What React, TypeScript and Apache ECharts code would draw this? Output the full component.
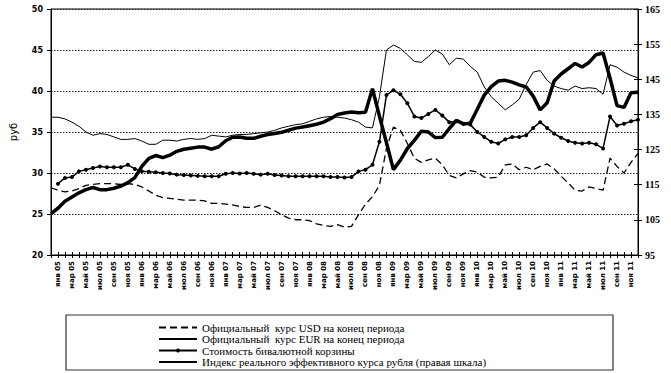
import React, { useEffect, useRef } from "react";
import * as echarts from "echarts";

const monthNames = ["янв", "фев", "мар", "апр", "май", "июн", "июл", "авг", "сен", "окт", "ноя", "дек"];
const years = ["05", "06", "07", "08", "09", "10", "11"];
const categories: string[] = ["дек 04"];
years.forEach((y) => monthNames.forEach((m) => categories.push(m + " " + y)));

const usd = [
  28.2, 27.9, 27.7, 27.8, 28.1, 28.5, 28.6, 28.7, 28.7, 28.7,
  28.6, 28.7, 28.6, 28.3, 27.8, 27.3, 27.0, 26.9, 26.8, 26.7,
  26.7, 26.7, 26.6, 26.3, 26.3, 26.2, 26.1, 25.9, 25.8, 25.8,
  26.1, 25.8, 25.4, 24.9, 24.5, 24.3, 24.3, 24.2, 23.8, 23.6,
  23.5, 23.7, 23.4, 23.5, 24.9, 26.2, 27.1, 28.5, 33.0, 35.6,
  35.2, 33.6, 31.8, 31.3, 31.6, 31.8, 31.0, 29.7, 29.4, 29.9,
  30.3, 30.1, 29.5, 29.4, 29.5, 31.0, 31.1, 30.4, 30.7, 30.4,
  30.8, 31.1, 30.5, 29.6, 28.8, 27.9, 27.8, 28.3, 28.1, 27.9,
  31.8, 30.8, 30.0, 31.3, 32.4,
];

const eur = [
  36.8, 36.8, 36.6, 36.2, 35.7, 35.0, 34.6, 34.8, 34.7, 34.4,
  34.1, 34.1, 34.2, 33.9, 33.5, 33.5, 34.0, 34.0, 33.9, 34.1,
  34.2, 34.1, 34.2, 34.6, 34.5, 34.4, 34.6, 34.7, 34.7, 34.8,
  34.9, 35.0, 35.2, 35.5, 35.7, 35.9, 36.0, 36.3, 36.6, 36.8,
  36.9, 36.8, 36.7, 36.5, 36.2, 35.6, 35.5, 39.3, 45.0, 45.6,
  45.2, 44.4, 43.6, 43.5, 44.2, 45.0, 44.5, 43.2, 44.0, 43.9,
  43.0, 42.3, 40.5, 39.3, 38.5, 37.7, 38.3, 39.0, 40.8, 42.3,
  42.5, 41.3, 40.6, 40.3, 40.1, 40.6, 40.3, 40.4, 40.3, 39.6,
  43.2, 42.9, 42.3, 41.9, 41.6,
];

const basket = [
  null, 28.7, 29.4, 29.5, 30.2, 30.4, 30.6, 30.8, 30.7, 30.7,
  30.7, 31.0, 30.5, 30.2, 30.15, 30.1, 30.0, 29.95, 29.8, 29.75,
  29.7, 29.65, 29.6, 29.6, 29.6, 29.9, 30.0, 29.95, 30.0, 29.9,
  29.8, 29.9, 29.75, 29.7, 29.6, 29.6, 29.6, 29.6, 29.6, 29.6,
  29.5, 29.5, 29.45, 29.5, 30.2, 30.4, 31.0, 33.8, 39.5, 40.1,
  39.6, 38.5, 36.9, 36.7, 37.2, 37.7, 37.0, 36.2, 36.3, 36.0,
  35.9, 35.0, 34.4, 33.8, 33.6, 34.1, 34.4, 34.4, 34.6, 35.5,
  36.2, 35.5, 34.8, 34.3, 33.9, 33.7, 33.6, 33.7, 33.5, 33.0,
  36.9, 35.8, 36.0, 36.3, 36.5,
];

const reer = [
  106.8, 108.3, 110.3, 111.5, 112.7, 113.6, 114.2, 113.6, 113.6, 114.0,
  114.6, 115.6, 117.0, 120.2, 122.5, 123.3, 122.7, 123.4, 124.5, 125.1,
  125.4, 125.7, 125.7, 125.1, 125.8, 127.5, 128.5, 128.6, 128.2, 128.2,
  128.8, 129.3, 129.6, 129.9, 130.5, 131.1, 131.4, 131.8, 132.2, 132.8,
  133.8, 135.0, 135.4, 135.7, 135.5, 135.6, 142.3, 134.5, 127.0, 119.3,
  122.0, 125.3, 127.6, 130.2, 130.0, 128.4, 128.5, 131.0, 133.3, 132.3,
  132.5, 136.5, 140.5, 142.9, 144.5, 144.7, 144.2, 143.4, 142.8, 140.2,
  136.3, 138.3, 144.5, 146.5, 148.0, 149.5, 148.5, 149.8, 152.0, 152.5,
  145.3, 137.5, 137.0, 141.2, 141.3,
];

const seriesNames = [
  "Официальный  курс USD на конец периода",
  "Официальный  курс EUR на конец периода",
  "Стоимость бивалютной корзины",
  "Индекс реального эффективного курса рубля (правая шкала)",
];

const hiddenSymbol = { color: "rgba(0,0,0,0)", borderWidth: 0, opacity: 0 };

export default function App() {
  const ref = useRef<HTMLDivElement>(null);

  useEffect(() => {
    if (!ref.current) return;
    const chart = echarts.init(ref.current, undefined, { renderer: "svg" });
    chart.setOption({
      animation: false,
      backgroundColor: "#fff",
      grid: {
        left: 48,
        right: 33,
        top: 9,
        bottom: 118,
        show: true,
        borderColor: "#000",
        borderWidth: 1,
      },
      legend: {
        orient: "vertical",
        left: 158,
        top: 322,
        height: 60,
        padding: 0,
        itemWidth: 38,
        itemHeight: 5,
        itemGap: 0.5,
        data: [
          { name: seriesNames[0], itemStyle: hiddenSymbol },
          { name: seriesNames[1], itemStyle: hiddenSymbol },
          { name: seriesNames[2] },
          { name: seriesNames[3], itemStyle: hiddenSymbol },
        ],
        textStyle: {
          fontFamily: "Liberation Serif",
          fontSize: 11,
          lineHeight: 11,
          color: "#000",
        },
      },
      graphic: [
        {
          type: "rect",
          shape: { x: 66, y: 315, width: 547, height: 55 },
          style: { fill: "none", stroke: "#333", lineWidth: 1.2 },
        },
      ],
      xAxis: [
        {
          type: "category",
          data: categories,
          boundaryGap: false,
          axisLine: { lineStyle: { color: "#000", width: 1 } },
          axisTick: { interval: 0, length: 3, lineStyle: { color: "#000" } },
          axisLabel: {
            interval: (index: number) => index % 2 === 1,
            rotate: 90,
            margin: 6,
            fontFamily: "DejaVu Sans",
            fontSize: 7,
            fontWeight: "bold",
            color: "#000",
          },
          splitLine: { show: false },
        },
        {
          type: "category",
          data: categories,
          boundaryGap: false,
          position: "bottom",
          axisLine: { show: false },
          axisTick: { interval: 0, inside: true, length: 3, lineStyle: { color: "#000" } },
          axisLabel: { show: false },
          splitLine: { show: false },
        },
      ],
      yAxis: [
        {
          type: "value",
          min: 20,
          max: 50,
          interval: 5,
          name: "руб",
          nameLocation: "middle",
          nameGap: 33,
          nameRotate: 90,
          nameTextStyle: { fontFamily: "DejaVu Sans", fontSize: 10, color: "#000" },
          axisLine: { show: true, lineStyle: { color: "#000" } },
          axisTick: { show: true, length: 4, lineStyle: { color: "#000" } },
          axisLabel: {
            margin: 8,
            fontFamily: "DejaVu Sans",
            fontSize: 8,
            fontWeight: "bold",
            color: "#000",
          },
          splitLine: {
            show: true,
            lineStyle: { color: "#222", width: 1, type: [1.5, 1.5] },
          },
        },
        {
          type: "value",
          min: 95,
          max: 165,
          interval: 10,
          position: "right",
          axisLine: { show: true, lineStyle: { color: "#000" } },
          axisTick: { show: true, length: 4, lineStyle: { color: "#000" } },
          axisLabel: {
            margin: 7,
            fontFamily: "Liberation Serif",
            fontSize: 10,
            fontWeight: "bold",
            color: "#000",
          },
          splitLine: { show: false },
        },
        {
          type: "value",
          min: 95,
          max: 165,
          interval: 10,
          position: "right",
          axisLine: { show: false },
          axisTick: { show: true, inside: true, length: 4, lineStyle: { color: "#000" } },
          axisLabel: { show: false },
          splitLine: { show: false },
        },
      ],
      series: [
        {
          name: seriesNames[0],
          type: "line",
          data: usd,
          symbol: "none",
          color: "#000",
          lineStyle: { color: "#000", width: 1.3, type: [7, 4] },
        },
        {
          name: seriesNames[1],
          type: "line",
          data: eur,
          symbol: "none",
          color: "#000",
          lineStyle: { color: "#000", width: 1 },
        },
        {
          name: seriesNames[2],
          type: "line",
          data: basket,
          symbol: "circle",
          symbolSize: 4,
          showSymbol: true,
          color: "#000",
          itemStyle: { color: "#000" },
          lineStyle: { color: "#000", width: 1.5 },
        },
        {
          name: seriesNames[3],
          type: "line",
          data: reer,
          yAxisIndex: 1,
          symbol: "none",
          color: "#000",
          lineStyle: { color: "#000", width: 3.5 },
        },
      ],
    });
    return () => chart.dispose();
  }, []);

  return (
    <div
      ref={ref}
      style={{ position: "absolute", left: 0, top: 0, width: 671, height: 373, background: "#fff" }}
    />
  );
}
